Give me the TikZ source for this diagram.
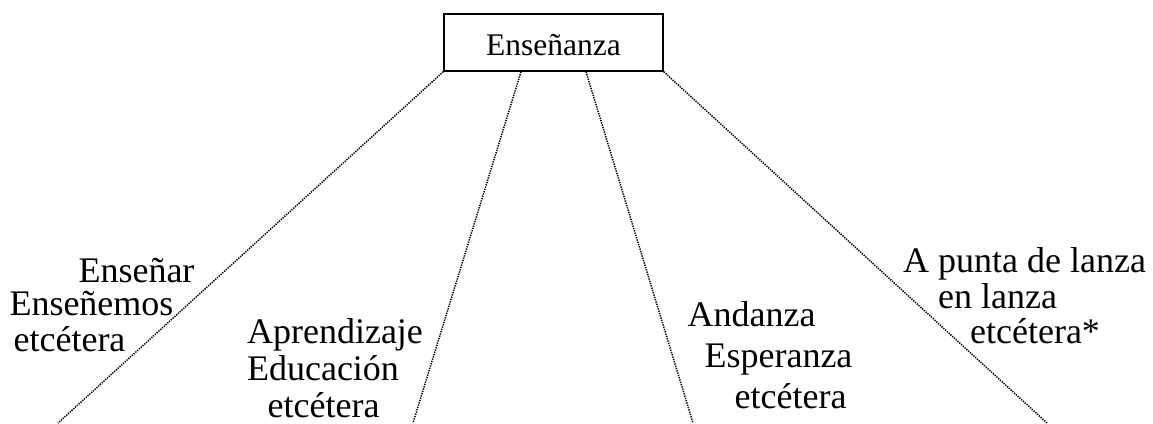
\documentclass[tikz,border=0pt]{standalone}
\usepackage{fontspec}
\newfontfamily\timesf{Liberation Serif}
\tikzset{
  lab/.style={anchor=base, inner sep=0pt,
    font={\timesf\fontsize{36}{38}\selectfont}},
  mainbox/.style={draw, line width=1.6pt, minimum width=219pt, minimum height=57pt,
    inner sep=0pt, text height=25pt, text depth=0pt,
    font={\timesf\fontsize{31.5}{36}\selectfont}},
  dots/.style={line width=1.5pt, dash pattern=on 1.3pt off 1.1pt}
}
\begin{document}
\begin{tikzpicture}[x=1pt,y=-1pt]
\useasboundingbox (0,0) rectangle (1153,423);
\node[mainbox] (b) at (553.5,42.5) {Enseñanza};
\coordinate (e1) at (58,423);
\coordinate (e2) at (413,423);
\coordinate (e3) at (693,423);
\coordinate (e4) at (1047,423);
\draw[dots] (b.south west) -- (e1);
\draw[dots] ([xshift=-32.5pt]b.south) -- (e2);
\draw[dots] ([xshift=32.5pt]b.south) -- (e3);
\draw[dots] (b.south east) -- (e4);
% group 1
\node[lab] (a1) at (136.5,282) {Enseñar};
\node[lab] (a2) at (91.5,315) {Enseñemos};
\node[lab] (a3) at (69.5,351) {etcétera};
% group 2
\node[lab] (b1) at (335,343) {Aprendizaje};
\node[lab] (b2) at (323,380) {Educación};
\node[lab] (b3) at (323.5,417) {etcétera};
% group 3
\node[lab] (c1) at (751.5,326) {Andanza};
\node[lab] (c2) at (778.5,367) {Esperanza};
\node[lab] (c3) at (790.5,408) {etcétera};
% group 4
\node[lab] (d1) at (1024.5,272) {A punta de lanza};
\node[lab] (d2) at (997.5,308) {en lanza};
\node[lab] (d3) at (1035,343) {etcétera*};
\end{tikzpicture}
\end{document}
